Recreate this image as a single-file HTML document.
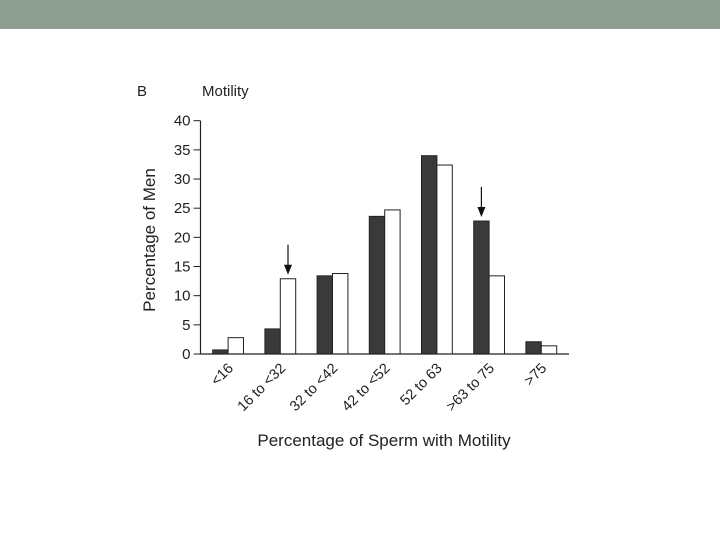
<!DOCTYPE html>
<html><head><meta charset="utf-8"><style>
html,body{margin:0;padding:0;background:#fff;width:720px;height:540px;overflow:hidden}
svg text{font-family:"Liberation Sans",sans-serif;fill:#222}
</style></head><body>
<svg width="720" height="540" viewBox="0 0 720 540">
<rect x="0" y="0" width="720" height="29" fill="#8f9e93"/>
<text x="137" y="96" font-size="15">B</text>
<text x="202" y="96" font-size="15">Motility</text>
<g id="plot"></g>
<text transform="translate(155,240) rotate(-90)" text-anchor="middle" font-size="17">Percentage of Men</text>
<text x="384" y="446" text-anchor="middle" font-size="17">Percentage of Sperm with Motility</text>
</svg>
<script>
const categories=["<16","16 to <32","32 to <42","42 to <52","52 to 63",">63 to 75",">75"];
const darkValues=[0.7,4.3,13.4,23.6,34,22.8,2.1];
const whiteValues=[2.8,12.9,13.8,24.7,32.4,13.4,1.4];
const yTicks=[0,5,10,15,20,25,30,35,40];
const arrowGroups=[1,5];
const arrowSeries=["white","dark"];
const NS="http://www.w3.org/2000/svg";
const g=document.getElementById('plot');
const x0=200.5,y0=354,yTop=120.7,yMax=40;
const groupStart=212.7,groupStep=52.2,bw=15.4;
function y(v){return y0-(v/yMax)*(y0-yTop);}
function gx(i){return groupStart+i*groupStep;}
function mk(tag,attrs){const e=document.createElementNS(NS,tag);for(const k in attrs)e.setAttribute(k,attrs[k]);g.appendChild(e);return e;}
categories.forEach((c,i)=>{
  const d=mk('rect',{x:gx(i),y:y(darkValues[i]),width:bw,height:y0-y(darkValues[i]),fill:'#3a3a3a',stroke:'#222','stroke-width':1});
  
  
  const w=mk('rect',{x:gx(i)+bw,y:y(whiteValues[i]),width:bw,height:y0-y(whiteValues[i]),fill:'#fff',stroke:'#222','stroke-width':1});
  
  
  const cx=gx(i)+bw+6, cy=369;
  const t=mk('text',{transform:`translate(${cx},${cy}) rotate(-45)`,'text-anchor':'end','font-size':14.5});
  t.textContent=c;
  
  
});
arrowGroups.forEach((gi,k)=>{
  const val=arrowSeries[k]==='white'?whiteValues[gi]:darkValues[gi];
  const ax=gx(gi)+(arrowSeries[k]==='white'?bw*1.5:bw*0.5);
  const tipY=y(val)-4;
  const l=mk('line',{x1:ax,x2:ax,y1:tipY-30,y2:tipY-8,stroke:'#111','stroke-width':1.2});
  
  
  const p=mk('polygon',{points:`${ax-4},${tipY-10} ${ax+4},${tipY-10} ${ax},${tipY}`,fill:'#111'});
  
  
});
yTicks.forEach(v=>{
  const l=mk('line',{x1:x0-7,x2:x0,y1:y(v),y2:y(v),stroke:'#222','stroke-width':1});
  
  
  const t=mk('text',{x:x0-10,y:y(v)+5,'text-anchor':'end','font-size':15});
  t.textContent=v;
  
  
});
const ya=mk('line',{x1:x0,x2:x0,y1:yTop,y2:y0,stroke:'#222','stroke-width':1.2});


const xa=mk('line',{x1:x0,x2:569,y1:y0,y2:y0,stroke:'#222','stroke-width':1.2});


</script>
</body></html>
